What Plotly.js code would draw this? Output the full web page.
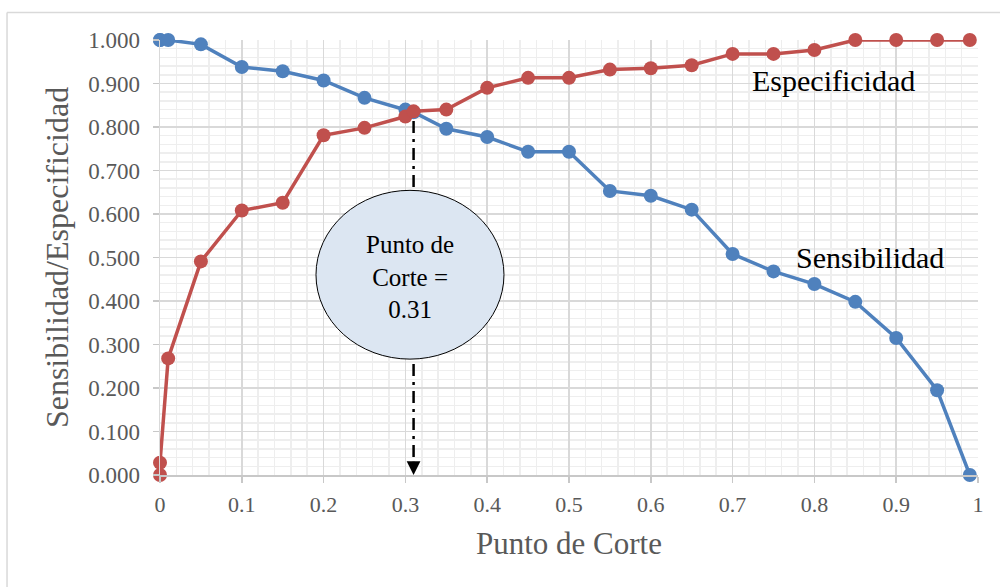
<!DOCTYPE html>
<html>
<head>
<meta charset="utf-8">
<script src="https://cdn.plot.ly/plotly-3.0.1.min.js"></script>
<style>html,body{margin:0;padding:0;background:#fff;}#chart{width:1000px;height:587px;}</style>
</head>
<body>
<div id="chart"></div>
<script>
// Cut points (x) shared by both series
const cutPoints = [0, 0, 0.01, 0.05, 0.1, 0.15, 0.2, 0.25, 0.3, 0.31, 0.35, 0.4, 0.45, 0.5, 0.55, 0.6, 0.65, 0.7, 0.75, 0.8, 0.85, 0.9, 0.95, 0.99];
const sensibilidad = [1.000, 1.000, 1.000, 0.990, 0.938, 0.928, 0.907, 0.867, 0.840, 0.834, 0.796, 0.777, 0.743, 0.743, 0.653, 0.642, 0.610, 0.508, 0.468, 0.439, 0.398, 0.315, 0.195, 0.000];
const especificidad = [0.000, 0.028, 0.268, 0.491, 0.608, 0.626, 0.781, 0.798, 0.824, 0.836, 0.840, 0.890, 0.913, 0.913, 0.932, 0.935, 0.942, 0.968, 0.968, 0.977, 1.000, 1.000, 1.000, 1.000];
const xTickVals = [0, 0.1, 0.2, 0.3, 0.4, 0.5, 0.6, 0.7, 0.8, 0.9, 1];
const xTickText = ["0", "0.1", "0.2", "0.3", "0.4", "0.5", "0.6", "0.7", "0.8", "0.9", "1"];
const cutValue = 0.31;
const cutLabel = "Punto de<br>Corte =<br>0.31";

const FONT = "'Liberation Serif', 'Times New Roman', serif";
const GRAY = "#595959";

const traces = [
  {
    x: cutPoints, y: sensibilidad, name: "Sensibilidad",
    type: "scatter", mode: "lines+markers", cliponaxis: false,
    line: {color: "#4f81bd", width: 3.5},
    marker: {color: "#4f81bd", size: 14}
  },
  {
    x: cutPoints, y: especificidad, name: "Especificidad",
    type: "scatter", mode: "lines+markers", cliponaxis: false,
    line: {color: "#c0504d", width: 3.5},
    marker: {color: "#c0504d", size: 14}
  }
];

const cutY = especificidad[cutPoints.indexOf(cutValue)];

const layout = {
  width: 1000, height: 587,
  margin: {l: 160, r: 22, t: 39.5, b: 112},
  paper_bgcolor: "#ffffff", plot_bgcolor: "#ffffff",
  showlegend: false,
  font: {family: FONT, color: GRAY},
  xaxis: {
    range: [0, 1],
    tickvals: xTickVals, ticktext: xTickText,
    tickfont: {family: FONT, size: 22, color: GRAY},
    ticklabelstandoff: 3,
    showgrid: true, gridcolor: "#d9d9d9", gridwidth: 1.5,
    minor: {dtick: 0.02, showgrid: true, gridcolor: "#eeeeee", gridwidth: 1.5, ticks: ""},
    zeroline: false,
    showline: true, linecolor: "#c8c8c8", linewidth: 2,
    ticks: "outside", ticklen: 6, tickcolor: "#c8c8c8", tickwidth: 1.5,
    title: {text: "Punto de Corte", font: {family: FONT, size: 31, color: GRAY}, standoff: 16}
  },
  yaxis: {
    range: [0, 1],
    dtick: 0.1, tick0: 0, tickformat: ".3f",
    tickfont: {family: FONT, size: 23, color: GRAY},
    ticklabelstandoff: 8,
    showgrid: true, gridcolor: "#d9d9d9", gridwidth: 1.5,
    minor: {dtick: 0.02, showgrid: true, gridcolor: "#eeeeee", gridwidth: 1.5, ticks: ""},
    zeroline: false,
    showline: true, linecolor: "#d9d9d9", linewidth: 1.5,
    ticks: "outside", ticklen: 6, tickcolor: "#c8c8c8", tickwidth: 1.5,
    title: {text: "Sensibilidad/Especificidad", font: {family: FONT, size: 32, color: GRAY}, standoff: 10}
  },
  shapes: [
    // outer chart border (top and left)
    {type: "line", xref: "paper", yref: "paper", x0: -0.187, x1: 1.05, y0: 1.063, y1: 1.063, line: {color: "#d9d9d9", width: 1.5}},
    {type: "line", xref: "paper", yref: "paper", x0: -0.187, x1: -0.187, y0: 1.063, y1: -0.3, line: {color: "#d9d9d9", width: 1.5}},
    // dash-dot drop line at the cut point
    {type: "line", xref: "x", yref: "y", x0: cutValue, x1: cutValue, y0: cutY - 0.022, y1: 0.03, line: {color: "#000000", width: 2.5, dash: "12px,6px,3px,6px"}},
    // ellipse
    {type: "circle", xref: "x", yref: "y", x0: 0.1907, x1: 0.4205, y0: 0.2664, y1: 0.6544, fillcolor: "#dce6f2", line: {color: "#000000", width: 1}}
  ],
  annotations: [
    {x: cutValue, y: 0, ax: cutValue, ay: 0.034, xref: "x", yref: "y", axref: "x", ayref: "y",
     showarrow: true, arrowhead: 2, arrowsize: 1.1, arrowwidth: 2.5, arrowcolor: "#000000", text: ""},
    {x: 0.3056, y: 0.455, xref: "x", yref: "y", text: cutLabel, showarrow: false,
     font: {family: FONT, size: 25, color: "#000000"}, align: "center"},
    {x: 0.823, y: 0.907, xref: "x", yref: "y", text: "Especificidad", showarrow: false,
     font: {family: FONT, size: 30, color: "#000000"}},
    {x: 0.868, y: 0.50, xref: "x", yref: "y", text: "Sensibilidad", showarrow: false,
     font: {family: FONT, size: 30, color: "#000000"}}
  ]
};

Plotly.newPlot("chart", traces, layout, {displayModeBar: false, staticPlot: true});
</script>
</body>
</html>
